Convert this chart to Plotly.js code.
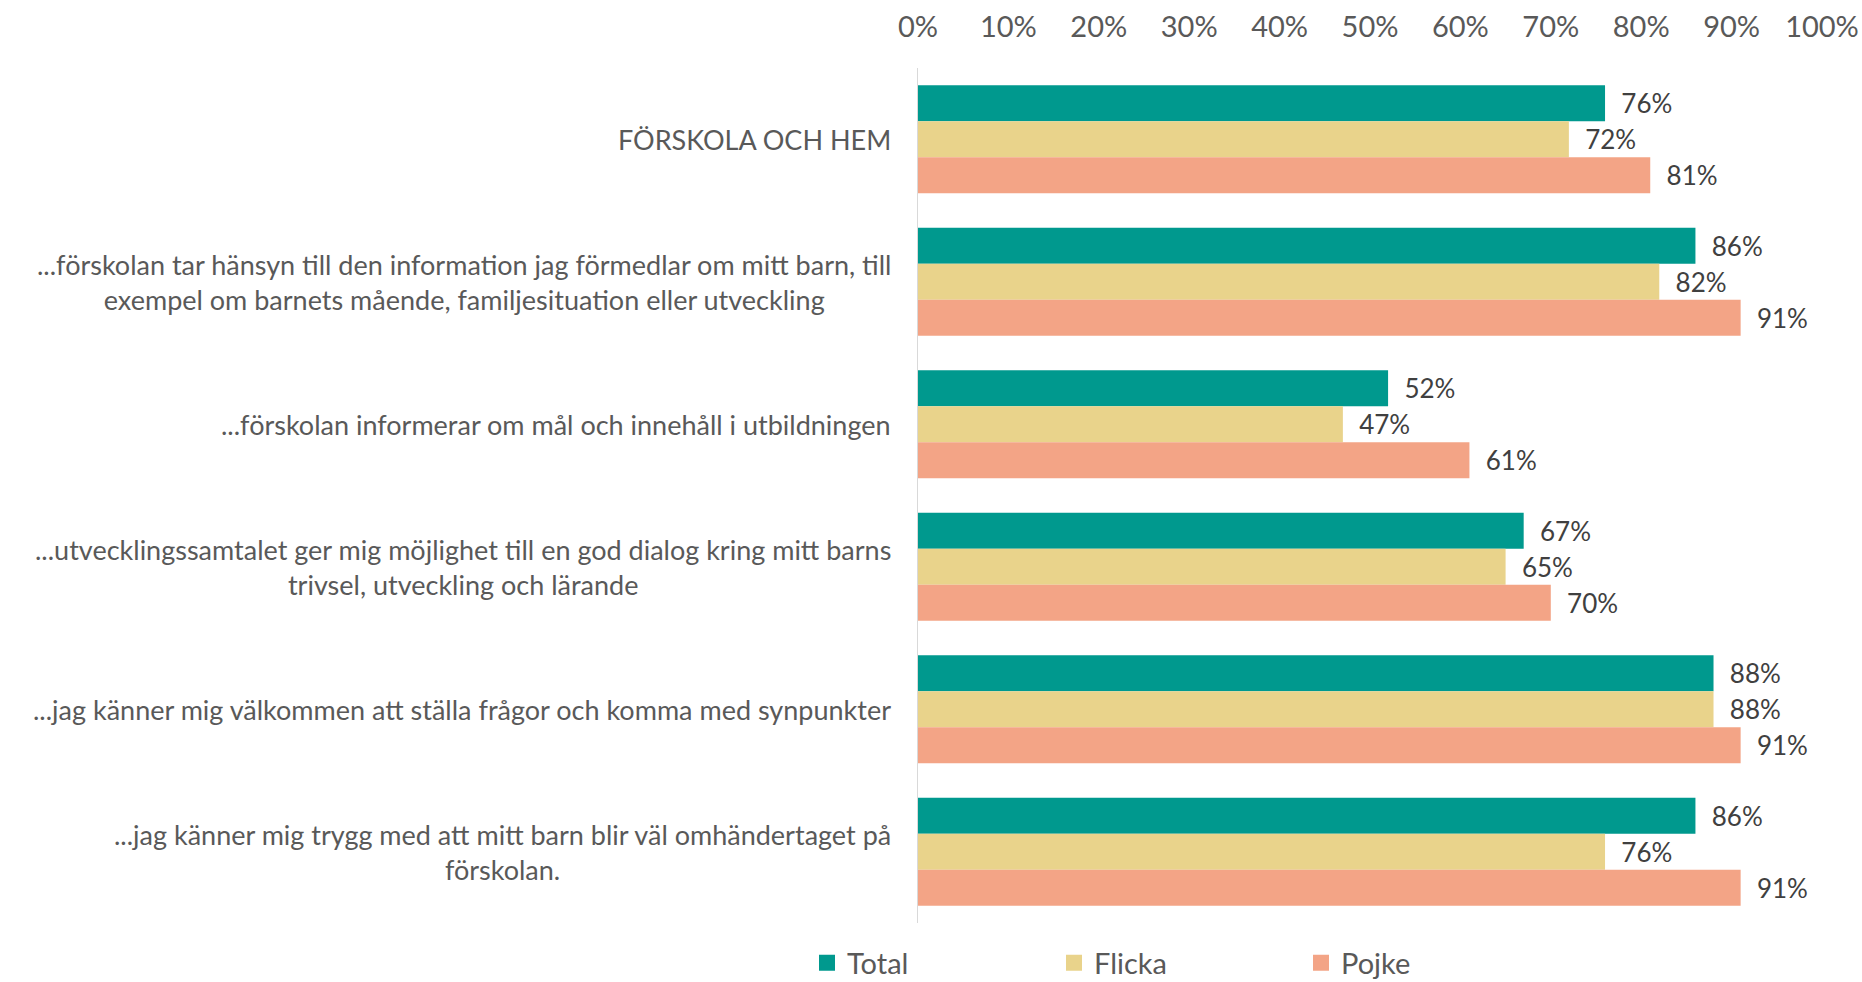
<!DOCTYPE html>
<html>
<head>
<meta charset="utf-8">
<script src="https://cdn.plot.ly/plotly-3.0.1.min.js"></script>
<style>html,body{margin:0;padding:0;background:#fff;}#chart{width:1862px;height:982px;}</style>
</head>
<body>
<div id="chart"></div>
<script>
const categories = [
  "FÖRSKOLA OCH HEM",
  "...förskolan tar hänsyn till den information jag förmedlar om mitt barn, till<br>exempel om barnets mående, familjesituation eller utveckling",
  "...förskolan informerar om mål och innehåll i utbildningen",
  "...utvecklingssamtalet ger mig möjlighet till en god dialog kring mitt barns<br>trivsel, utveckling och lärande",
  "...jag känner mig välkommen att ställa frågor och komma med synpunkter",
  "...jag känner mig trygg med att mitt barn blir väl omhändertaget på<br>förskolan."
];
const seriesNames = ["Total", "Flicka", "Pojke"];
const total  = [76, 86, 52, 67, 88, 86];
const flicka = [72, 82, 47, 65, 88, 76];
const pojke  = [81, 91, 61, 70, 91, 91];
const tickValues = [0,10,20,30,40,50,60,70,80,90,100];

const colors = ["#00998E", "#E9D38B", "#F3A486"];
const FONT = "Lato, 'Open Sans', sans-serif";

const seriesValues = [total, flicka, pojke];
const traces = seriesValues.map((vals, i) => ({
  type: "bar",
  orientation: "h",
  name: seriesNames[i],
  x: vals,
  y: categories,
  marker: {color: colors[i]},
  text: vals.map(v => "\u00a0\u00a0" + v + "%"),
  textposition: "outside",
  textfont: {family: FONT, size: 26, color: "#404040"},
  cliponaxis: false,
  showlegend: false,
  hoverinfo: "x+y"
}));

// legend-only entries (larger square symbols)
seriesNames.forEach((n, i) => {
  traces.push({
    type: "scatter",
    mode: "markers",
    name: n,
    x: [null], y: [null],
    marker: {symbol: "square", size: 19, color: colors[i]},
    showlegend: true,
    hoverinfo: "skip"
  });
});

const annotations = categories.map(c => ({
  xref: "paper", yref: "y",
  x: 0, y: c,
  xanchor: "right", yanchor: "middle",
  xshift: -25,
  align: "center",
  showarrow: false,
  text: c,
  font: {family: FONT, size: 27, color: "#595959"}
}));

const layout = {
  width: 1862, height: 982,
  margin: {l: 918, r: 40, t: 68, b: 59},
  paper_bgcolor: "#fff", plot_bgcolor: "#fff",
  barmode: "group",
  bargap: 0.242,
  bargroupgap: 0,
  font: {family: FONT, size: 26, color: "#595959"},
  xaxis: {
    side: "top",
    range: [0, 100],
    tickvals: tickValues,
    ticktext: tickValues.map(v => v + "%"),
    showgrid: false,
    zeroline: false,
    showline: false,
    ticks: "",
    ticklabelstandoff: 24,
    tickfont: {family: FONT, size: 29, color: "#595959"},
    fixedrange: true
  },
  yaxis: {
    autorange: "reversed",
    showticklabels: false,
    showgrid: false,
    zeroline: false,
    showline: true,
    linecolor: "#D9D9D9",
    linewidth: 1.5,
    ticks: "",
    fixedrange: true
  },
  showlegend: true,
  legend: {
    orientation: "h",
    x: 807 / 1862, xref: "container", xanchor: "left",
    y: 1 - 963 / 982, yref: "container", yanchor: "middle",
    entrywidth: 202,
    traceorder: "normal",
    font: {family: FONT, size: 29, color: "#595959"}
  },
  annotations: annotations
};

Plotly.newPlot("chart", traces, layout, {displayModeBar: false, staticPlot: true});
</script>
</body>
</html>
